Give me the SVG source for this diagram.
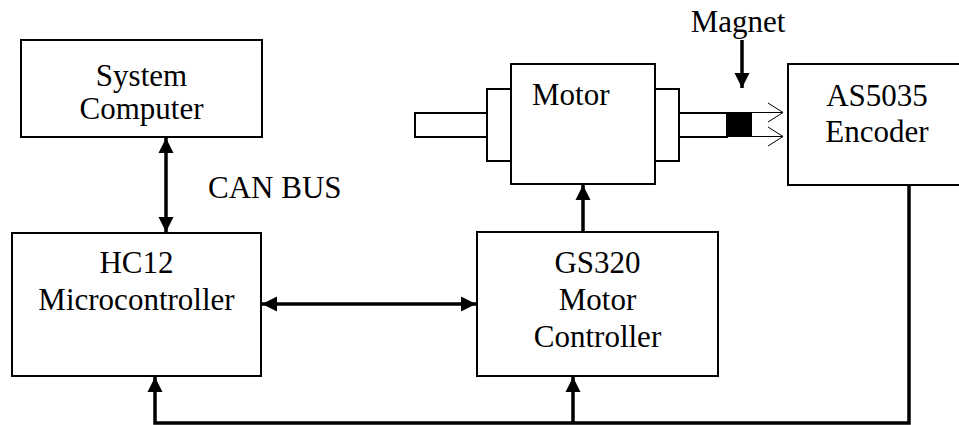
<svg xmlns="http://www.w3.org/2000/svg" width="959" height="425" viewBox="0 0 959 425">
<style>
.box{fill:#fff;stroke:#000;stroke-width:2}
.t{font-family:"Liberation Serif","Times New Roman",serif;font-size:31px;fill:#000}
.c{text-anchor:middle}
.w{fill:none;stroke:#000;stroke-width:3.5}
.thin{fill:none;stroke:#000;stroke-width:1}
</style>
<defs>
<marker id="ah" viewBox="0 0 10 10" refX="10" refY="5" markerWidth="4.4" markerHeight="4.4" markerUnits="strokeWidth" orient="auto-start-reverse">
<path d="M0,0 L10,5 L0,10 Z" fill="#000"/>
</marker>
</defs>
<rect width="959" height="425" fill="#fff"/>
<g id="system-computer">
<rect class="box" x="21" y="40" width="241" height="97"/>
<text class="t c" x="141.5" y="86">System</text>
<text class="t c" x="141.5" y="119">Computer</text>
</g>
<g id="hc12">
<rect class="box" x="12" y="233" width="249" height="143"/>
<text class="t c" x="136.5" y="273">HC12</text>
<text class="t c" x="136.5" y="310">Microcontroller</text>
</g>
<g id="gs320">
<rect class="box" x="477" y="232" width="241" height="144"/>
<text class="t c" x="597.5" y="273">GS320</text>
<text class="t c" x="597.5" y="310">Motor</text>
<text class="t c" x="597.5" y="347">Controller</text>
</g>
<g id="motor">
<rect class="box" x="415" y="113" width="72" height="24"/>
<rect class="box" x="487" y="89" width="24" height="72"/>
<rect class="box" x="655" y="89" width="24" height="72"/>
<rect class="box" x="679" y="113" width="48" height="24"/>
<rect class="box" x="511" y="64" width="144" height="120"/>
<text class="t" x="532" y="105">Motor</text>
</g>
<g id="magnet">
<rect x="727" y="112" width="25" height="25" fill="#000"/>
<text class="t c" x="738" y="32">Magnet</text>
</g>
<g id="encoder">
<rect class="box" x="788" y="64" width="180" height="121"/>
<text class="t c" x="877" y="106">AS5035</text>
<text class="t c" x="877" y="142">Encoder</text>
</g>
<text class="t" x="208" y="198">CAN BUS</text>
<g id="connectors">
<line class="w" x1="166" y1="138" x2="166" y2="232" marker-start="url(#ah)" marker-end="url(#ah)"/>
<line class="w" x1="262" y1="304" x2="476" y2="304" marker-start="url(#ah)" marker-end="url(#ah)"/>
<line class="w" x1="583" y1="231" x2="583" y2="185" marker-end="url(#ah)"/>
<line class="w" x1="742" y1="40" x2="742" y2="88" marker-end="url(#ah)"/>
<polyline class="w" points="909,185 909,423 155,423 155,377" marker-end="url(#ah)"/>
<line class="w" x1="573" y1="423" x2="573" y2="377" marker-end="url(#ah)"/>
<line class="thin" x1="752" y1="112.5" x2="783" y2="112.5"/>
<line class="thin" x1="752" y1="136.5" x2="783" y2="136.5"/>
<polyline class="thin" points="768,103 783,112.5 768,122"/>
<polyline class="thin" points="768,127 783,136.5 768,146"/>
</g>
</svg>
